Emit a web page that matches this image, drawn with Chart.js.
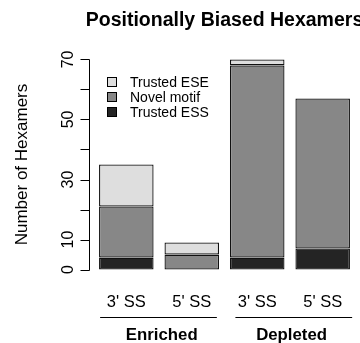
<!DOCTYPE html>
<html><head><meta charset="utf-8">
<script src="https://cdn.jsdelivr.net/npm/chart.js@4"></script>
<style>html,body{margin:0;padding:0;background:#fff;overflow:hidden}#wrap{width:360px;height:343px}</style>
</head><body><div id="wrap"><canvas id="c" width="360" height="343"></canvas></div>
<script>
// ---- data ----
const categories = ["3' SS", "5' SS", "3' SS", "5' SS"];
const groups = ["Enriched", "Depleted"];
const seriesNames = ["Trusted ESS", "Novel motif", "Trusted ESE"];
const trustedESS = [4, 0, 4, 7];
const novelMotif = [17, 5, 64, 50];
const trustedESE = [14, 4, 2, 0];
const yTicks = [0, 10, 20, 30, 40, 50, 60, 70];
const yTickLabels = [0, 10, 30, 50, 70];
const titleText = "Positionally Biased Hexamers";
const yTitle = "Number of Hexamers";

// ---- layout (R barplot style: width 1, space 0.2) ----
const space = 0.2;
const barPos = categories.map((_, i) => space + i * (1 + space) + 0.5);
const xLo = space, xHi = categories.length * (1 + space);
const xPad = (xHi - xLo) * 0.04;
const yPad = (70 - 0) * 0.04;
const groupSpan = [[0.22, 2.36], [2.70, 4.84]];
const groupLabelAt = [1.35, 3.73];
const colors = ["#242424", "#878787", "#dedede"];
const FONT = "'Liberation Sans', Arial, Helvetica, sans-serif";

const series = [trustedESS, novelMotif, trustedESE];
const datasets = series.map((arr, k) => ({
  label: seriesNames[k],
  data: arr.map((v, i) => ({ x: barPos[i], y: v })),
  backgroundColor: colors[k],
  borderColor: "#111",
  borderWidth: 1.3,
  borderSkipped: false,
  barPercentage: 1 / (1 + space),
  categoryPercentage: 1
}));

const decor = {
  id: "decor",
  afterDraw(chart) {
    const ctx = chart.ctx, a = chart.chartArea;
    const xs = chart.scales.x, ys = chart.scales.y;
    ctx.save();
    ctx.fillStyle = "#000";
    ctx.strokeStyle = "#000";
    ctx.lineWidth = 1;
    // title
    ctx.font = "bold 19.5px " + FONT;
    ctx.textAlign = "center";
    ctx.textBaseline = "alphabetic";
    ctx.fillText(titleText, (a.left + a.right) / 2, 26);
    // y axis
    const ax = Math.round(a.left) + 0.5;
    ctx.beginPath();
    ctx.moveTo(ax, Math.round(ys.getPixelForValue(yTicks[0])) + 0.5);
    ctx.lineTo(ax, Math.round(ys.getPixelForValue(yTicks[yTicks.length - 1])) + 0.5);
    yTicks.forEach(v => {
      const py = Math.round(ys.getPixelForValue(v)) + 0.5;
      ctx.moveTo(ax, py);
      ctx.lineTo(ax - 9, py);
    });
    ctx.stroke();
    ctx.font = "16px " + FONT;
    yTickLabels.forEach(v => {
      const py = ys.getPixelForValue(v);
      ctx.save();
      ctx.translate(a.left - 16, py);
      ctx.rotate(-Math.PI / 2);
      ctx.textAlign = "center";
      ctx.fillText(String(v), 0, 0);
      ctx.restore();
    });
    // y title
    ctx.font = "17px " + FONT;
    ctx.save();
    ctx.translate(27, (a.top + a.bottom) / 2);
    ctx.rotate(-Math.PI / 2);
    ctx.textAlign = "center";
    ctx.fillText(yTitle, 0, 0);
    ctx.restore();
    // category labels
    ctx.font = "16.5px " + FONT;
    ctx.textAlign = "center";
    categories.forEach((c, i) => {
      ctx.fillText(c, xs.getPixelForValue(barPos[i]), 307);
    });
    // group lines and labels
    ctx.font = "bold 16.8px " + FONT;
    groups.forEach((g, k) => {
      const x0 = xs.getPixelForValue(groupSpan[k][0]);
      const x1 = xs.getPixelForValue(groupSpan[k][1]);
      ctx.beginPath();
      ctx.moveTo(x0, 317.5);
      ctx.lineTo(x1, 317.5);
      ctx.stroke();
      ctx.fillText(g, xs.getPixelForValue(groupLabelAt[k]), 340);
    });
    // legend
    ctx.font = "14px " + FONT;
    ctx.textAlign = "left";
    ctx.textBaseline = "middle";
    const order = [2, 1, 0];
    order.forEach((k, r) => {
      const cy = 82 + r * 15;
      ctx.fillStyle = colors[k];
      ctx.fillRect(107.5, cy - 4.5, 9, 9);
      ctx.strokeRect(107.5, cy - 4.5, 9, 9);
      ctx.fillStyle = "#000";
      ctx.fillText(seriesNames[k], 130, cy + 1);
    });
    ctx.restore();
  }
};

new Chart(document.getElementById("c"), {
  type: "bar",
  data: { datasets },
  options: {
    responsive: false,
    animation: false,
    devicePixelRatio: 1,
    layout: { padding: { left: 89, right: 0, top: 51, bottom: 65 } },
    plugins: { legend: { display: false }, tooltip: { enabled: false }, title: { display: false } },
    scales: {
      x: {
        type: "linear", display: false, stacked: true, offset: false,
        grid: { offset: false },
        min: xLo - xPad, max: xHi + xPad,
        afterBuildTicks: s => { s.ticks = barPos.map(v => ({ value: v })); }
      },
      y: {
        display: false, stacked: true,
        min: -yPad, max: 70 + yPad,
        afterBuildTicks: s => { s.ticks = yTicks.map(v => ({ value: v })); }
      }
    }
  },
  plugins: [decor]
});
</script>
</body></html>
